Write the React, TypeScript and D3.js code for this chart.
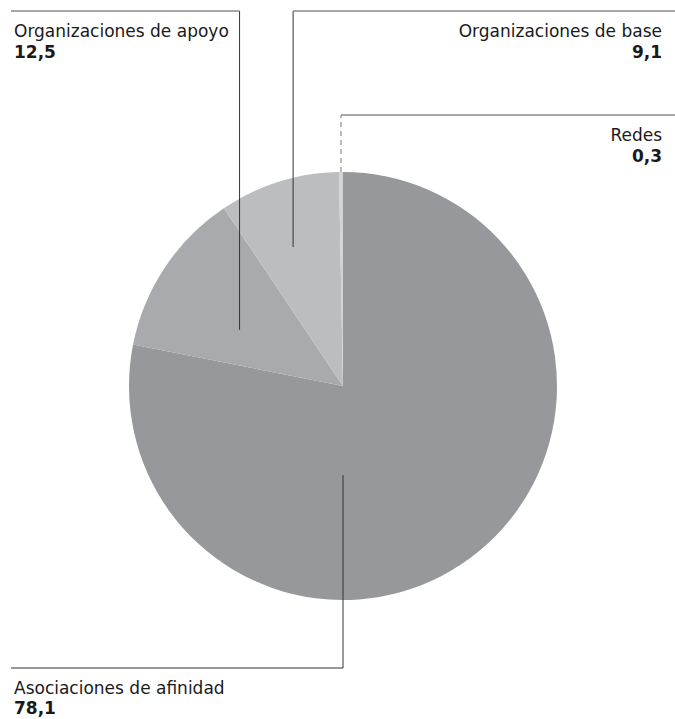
import React from "react";
import * as d3 from "d3";

const categories = ["Asociaciones de afinidad", "Organizaciones de apoyo", "Organizaciones de base", "Redes"];
const values = [78.1, 12.5, 9.1, 0.3];
const valueLabels = ["78,1", "12,5", "9,1", "0,3"];
const colors = ["#97989c", "#a9aaad", "#bcbdc0", "#d2d3d5"];

const W = 675, H = 719;
const cx = 343, cy = 386, R = 214;

export default function App() {
  const pie = d3.pie<number>().sort(null).startAngle(0).endAngle(2 * Math.PI)(values);
  const arc = d3.arc<d3.PieArcDatum<number>>().innerRadius(0).outerRadius(R);

  const pt = (a: number, rf: number): [number, number] => [cx + Math.sin(a) * R * rf, cy - Math.cos(a) * R * rf];

  const font = "'DejaVu Sans', 'Open Sans', sans-serif";
  const textColor = "#1a1a1a";
  const lineDark = "#333";
  const lineTop = "#8a8a8a";

  const afA: [number, number] = [cx, cy + 89];
  const apA = pt((pie[1].startAngle + pie[1].endAngle) / 2 - 0.09, 0.55);
  const baA = pt((pie[2].startAngle + pie[2].endAngle) / 2 - 0.04, 0.69);
  const reA = pt((pie[3].startAngle + pie[3].endAngle) / 2, 1.0);

  return (
    <svg width={W} height={H} style={{ display: "block", position: "absolute", left: 0, top: 0 }}>
      <rect width={W} height={H} fill="#fff" />
      <g transform={`translate(${cx},${cy})`}>
        {pie.map((d, i) => (
          <path key={i} d={arc(d) || ""} fill={colors[i]} />
        ))}
      </g>

      <polyline points={`${afA[0]},${afA[1]} ${afA[0]},668 11,668`} fill="none" stroke={lineDark} strokeWidth={1} />
      <line x1={apA[0]} y1={apA[1]} x2={apA[0]} y2={11} stroke={lineDark} strokeWidth={1} />
      <line x1={11} y1={11} x2={apA[0]} y2={11} stroke={lineTop} strokeWidth={1.3} />
      <line x1={baA[0]} y1={baA[1]} x2={baA[0]} y2={11} stroke={lineDark} strokeWidth={1} />
      <line x1={baA[0]} y1={11} x2={W} y2={11} stroke={lineTop} strokeWidth={1.3} />
      <line x1={reA[0]} y1={reA[1]} x2={reA[0]} y2={115} stroke="#777" strokeWidth={1} strokeDasharray="5,4" />
      <line x1={reA[0]} y1={115} x2={W} y2={115} stroke={lineTop} strokeWidth={1.3} />

      <g fontFamily={font} fill={textColor} fontSize={17}>
        <text x={14} y={37}>{categories[1]}</text>
        <text x={14} y={58} fontWeight="bold">{valueLabels[1]}</text>

        <text x={662} y={37} textAnchor="end">{categories[2]}</text>
        <text x={662} y={58} textAnchor="end" fontWeight="bold">{valueLabels[2]}</text>

        <text x={662} y={141} textAnchor="end">{categories[3]}</text>
        <text x={662} y={162} textAnchor="end" fontWeight="bold">{valueLabels[3]}</text>

        <text x={14} y={694}>{categories[0]}</text>
        <text x={14} y={714} fontWeight="bold">{valueLabels[0]}</text>
      </g>
    </svg>
  );
}
